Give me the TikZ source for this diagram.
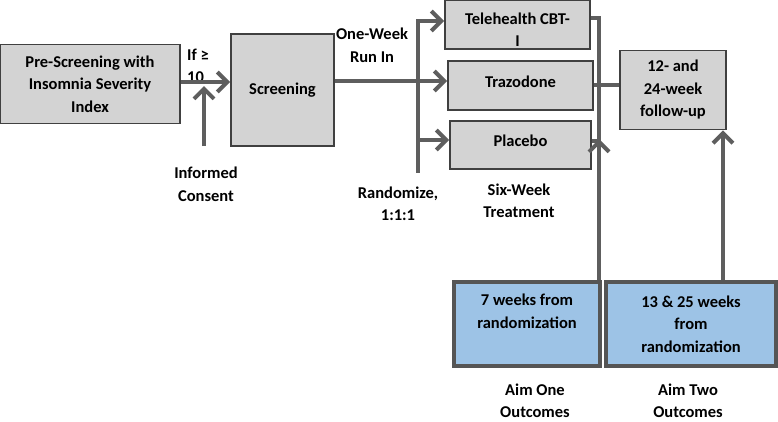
\documentclass[tikz,border=0pt]{standalone}
\usepackage{fontspec}
\setmainfont{Carlito}
\usetikzlibrary{arrows.meta}
\definecolor{boxfill}{HTML}{D3D3D3}
\definecolor{boxline}{HTML}{404040}
\definecolor{conn}{HTML}{5E5E5E}
\definecolor{bluefill}{HTML}{9DC3E6}
\definecolor{blueline}{HTML}{555555}
\newcommand{\dfont}{\fontsize{16.5}{22.5}\selectfont\bfseries}
\tikzset{
  graybox/.style={draw=boxline, line width=1.8pt, fill=boxfill, align=center, inner sep=0pt, font=\dfont},
  bluebox/.style={draw=blueline, line width=4.5pt, fill=bluefill, align=center, inner sep=0pt, font=\dfont},
  conline/.style={draw=conn, line width=4pt},
  conarrow/.style={conline, -{Straight Barb[length=10pt,width=20pt]}},
  lbl/.style={align=center, font=\dfont, inner sep=0pt},
}
\begin{document}
\begin{tikzpicture}[x=1pt,y=-1pt]
\useasboundingbox (0,0) rectangle (778,421);
% boxes
\node[graybox, minimum width=180pt, minimum height=79pt] (pre) at (90,84) {Pre-Screening with\\Insomnia Severity\\Index};
\node[graybox, minimum width=103pt, minimum height=112pt] (scr) at (282.5,90) {Screening};
\node[graybox, minimum width=145pt, minimum height=49pt, text height=44pt] (tele) at (517.5,24.5) {Telehealth CBT-\\I};
\node[graybox, minimum width=145pt, minimum height=49pt, text depth=8pt] (traz) at (520.5,85.5) {Trazodone};
\node[graybox, minimum width=141pt, minimum height=48pt, text depth=8pt] (plac) at (520.5,145) {Placebo};
\node[graybox, minimum width=106pt, minimum height=79pt] (fup) at (673,90) {12- and\\24-week\\follow-up};
\node[bluebox, minimum width=146pt, minimum height=84pt, text depth=26pt] (seven) at (527,324) {7 weeks from\\randomization};
\node[bluebox, minimum width=170pt, minimum height=84pt] (thirteen) at (691,324) {13 \& 25 weeks\\from\\randomization};
% labels
\node[lbl, anchor=west, align=left] (ifl) at (187,66) {If ≥\\10};
\node[lbl] (cons) at (206,184.5) {Informed\\Consent};
\node[lbl] (run) at (372,45.5) {One-Week\\Run In};
\node[lbl] (rand) at (398,204) {Randomize,\\1:1:1};
\node[lbl] (six) at (519,201) {Six-Week\\Treatment};
\node[lbl] (aim1) at (535,401) {Aim One\\Outcomes};
\node[lbl] (aim2) at (688,401) {Aim Two\\Outcomes};
% coordinates
\coordinate (cons0) at (204,146);
\coordinate (cons1) at (204,86);
\coordinate (split) at (418,81);
\coordinate (vtop) at (418,19);
\coordinate (vbot) at (418,173);
\coordinate (tcorner) at (599,18);
\coordinate (pmid) at (599,141);
% connectors
\draw[conarrow] (pre.east |- 0,82) -- (scr.west |- 0,82);
\draw[conarrow] (cons0) -- (cons1);
\draw[conline] (scr.east |- split) -- (split);
\draw[conline] (vtop) -- (vbot);
\draw[conarrow] (vtop |- 0,21) -- (tele.west |- 0,21);
\draw[conarrow] (split) -- (traz.west |- split);
\draw[conarrow] (vtop |- 0,140) -- (plac.west |- 0,140);
\draw[conline] (tele.east |- tcorner) -- (tcorner) -- (seven.north -| tcorner);
\draw[conline] (plac.east |- pmid) -- (pmid);
\draw[conarrow] (599,165) -- (599,139);
\draw[conline] (traz.east |- 0,85) -- (fup.west |- 0,85);
\draw[conarrow] (thirteen.north -| 723,0) -- (fup.south -| 723,0);
\end{tikzpicture}
\end{document}
